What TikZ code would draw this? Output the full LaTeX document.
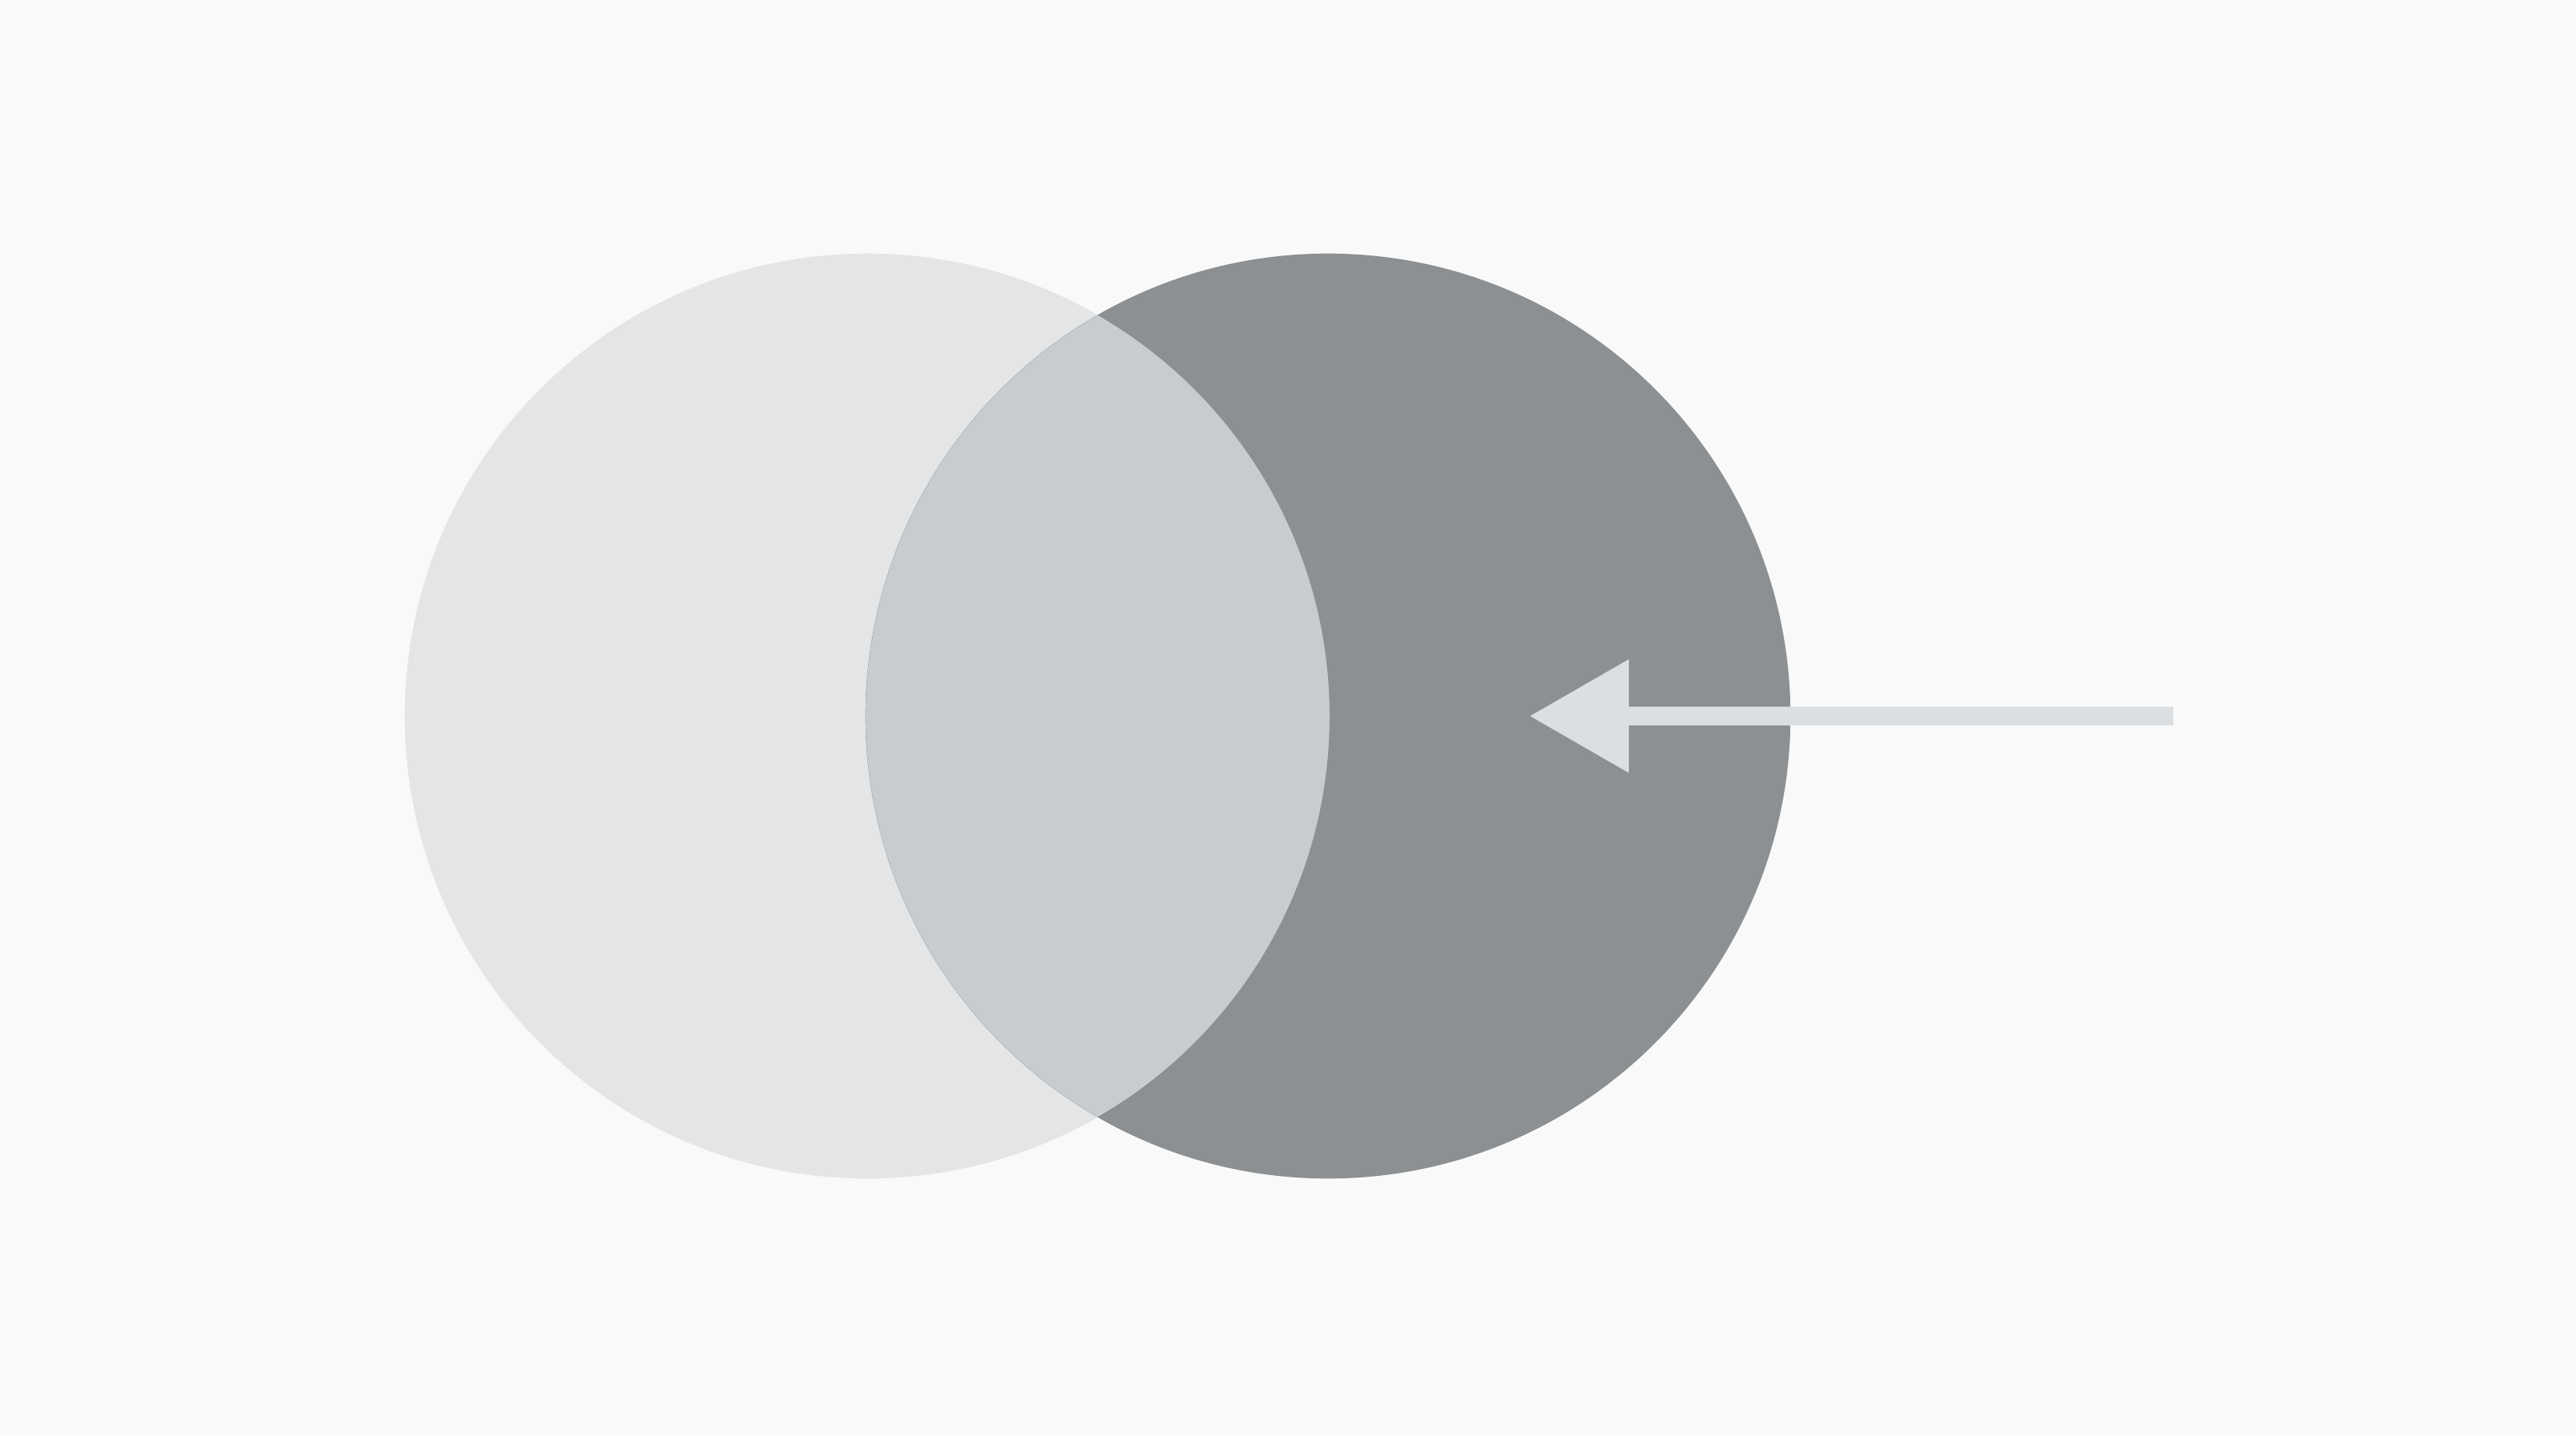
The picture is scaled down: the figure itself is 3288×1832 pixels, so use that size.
\documentclass[tikz,border=0pt]{standalone}
\usetikzlibrary{arrows.meta}
\definecolor{bg}{HTML}{F9F9F9}
\definecolor{leftc}{HTML}{E4E5E6}
\definecolor{rightc}{HTML}{8C9092}
\definecolor{overc}{HTML}{C9CCCE}
\definecolor{arrowc}{HTML}{DCDFE2}
\tikzset{
  disc/.style={circle, minimum size=11.8cm, inner sep=0pt, outer sep=0pt, draw=none},
  pointer/.style={draw=arrowc, line width=0.24cm,
    -{Triangle[length=1.26cm, width=1.45cm, line width=0pt, fill=arrowc]}}
}
\begin{document}
\begin{tikzpicture}[x=0.01cm, y=-0.01cm]
  \fill[bg] (0,0) rectangle (3288,1832);
  \useasboundingbox (0,0) rectangle (3288,1832);
  \node[disc, fill=leftc] (A) at (1107,914) {};
  \node[disc, fill=rightc] (B) at (1695,914) {};
  \begin{scope}
    \clip (1107,914) circle (590);
    \fill[overc] (1695,914) circle (590);
  \end{scope}
  \coordinate (tail) at (2774,914);
  \coordinate (tip) at (1953,914);
  \draw[pointer] (tail) -- (tip);
\end{tikzpicture}
\end{document}
